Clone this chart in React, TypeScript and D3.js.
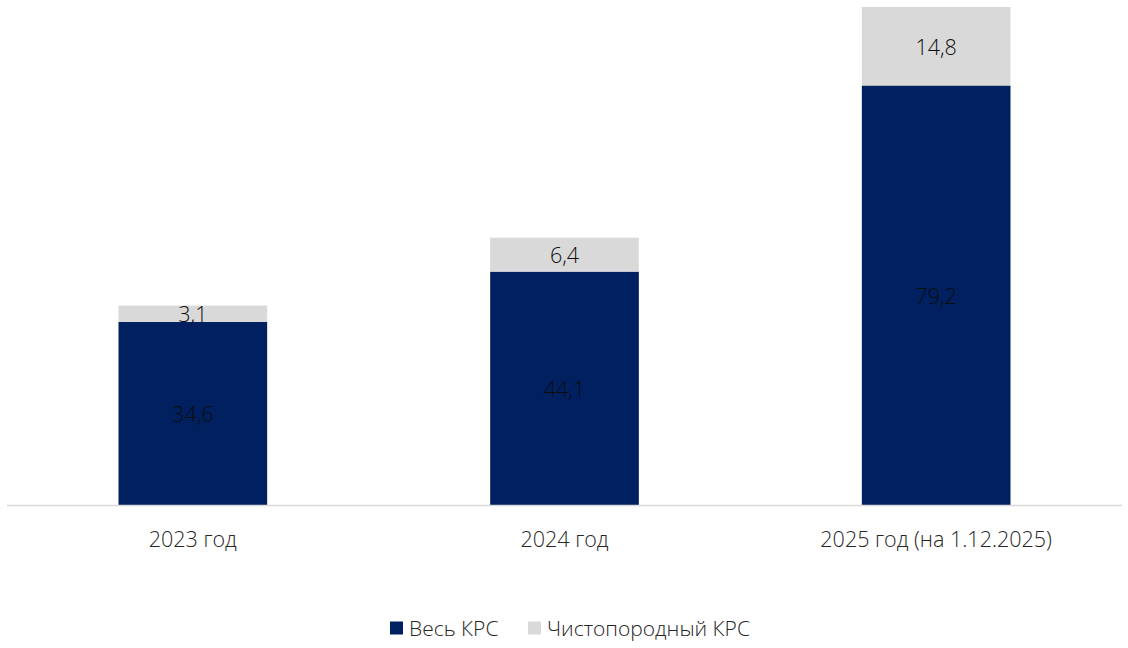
import React from "react";
import { scaleBand, scaleLinear, stack } from "d3";

// Поголовье КРС, тыс. голов
const categories = ["2023 год", "2024 год", "2025 год (на 1.12.2025)"];
const allCattle = [34.6, 44.1, 79.2];
const purebred = [3.1, 6.4, 14.8];
const seriesNames = ["Весь КРС", "Чистопородный КРС"];

const colors = ["#002060", "#d9d9d9"];
const W = 1128;
const H = 648;
const font = "'Open Sans', 'Noto Sans', sans-serif";

export default function App() {
  const rows = categories.map((c, i) => ({ cat: c, a: allCattle[i], b: purebred[i] }));
  const layers = stack<any>().keys(["a", "b"])(rows);

  const x = scaleBand().domain(categories).range([7, 1122]).padding(0);
  const barW = x.bandwidth() * 0.4;
  const y = scaleLinear().domain([0, 94]).range([505.5, 7]);

  const fmt = (v: number) => v.toFixed(1).replace(".", ",");

  return (
    <svg width={W} height={H} style={{ position: "absolute", left: 0, top: 0, fontFamily: font, fontWeight: 300 }}>
      <rect width={W} height={H} fill="#fff" />
      {layers.map((layer, li) =>
        layer.map((d, i) => {
          const cx = x(categories[i])! + x.bandwidth() / 2;
          const top = y(d[1]);
          const bot = y(d[0]);
          const val = d[1] - d[0];
          return (
            <g key={`${li}-${i}`}>
              <rect x={cx - barW / 2} y={top} width={barW} height={bot - top} fill={colors[li]} />
              <text
                x={cx}
                y={(top + bot) / 2}
                textAnchor="middle"
                dominantBaseline="central"
                fontSize={21.5}
                fill="#0d0d0d"
              >
                {fmt(val)}
              </text>
            </g>
          );
        })
      )}
      <line x1={7} x2={1122} y1={y(0)} y2={y(0)} stroke="#d9d9d9" strokeWidth={1.5} />
      {categories.map((c) => (
        <text
          key={c}
          x={x(c)! + x.bandwidth() / 2}
          y={538}
          textAnchor="middle"
          dominantBaseline="central"
          fontSize={21.5}
          fill="#262626"
        >
          {c}
        </text>
      ))}
      <g>
        {seriesNames.map((s, i) => {
          const lx = [390, 528][i];
          return (
            <g key={s}>
              <rect x={lx} y={621.5} width={13} height={13} fill={colors[i]} />
              <text x={lx + 19} y={628} dominantBaseline="central" fontSize={21} fill="#262626">
                {s}
              </text>
            </g>
          );
        })}
      </g>
    </svg>
  );
}
